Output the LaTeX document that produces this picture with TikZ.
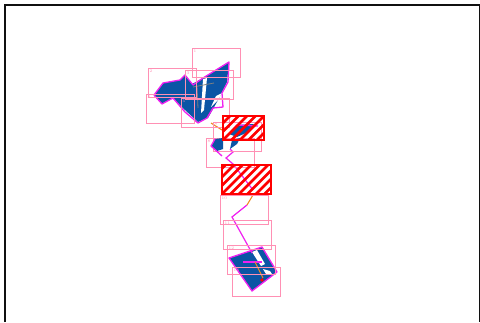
\documentclass[tikz,border=0pt]{standalone}
\usepackage{xcolor}
\definecolor{framec}{HTML}{101010}
\definecolor{boxc}{HTML}{FF90B4}
\definecolor{blobc}{HTML}{0B55A5}
\definecolor{pathc}{HTML}{F020F0}
\definecolor{legc}{HTML}{F08A20}
\definecolor{hatchc}{HTML}{FF0000}
\tikzset{
  pinkbox/.style={draw=boxc,line width=1pt},
  boxlabel/.style={text=boxc,font=\fontsize{4}{4}\selectfont,inner sep=0pt,anchor=north west},
  outline/.style={draw=pathc,line width=1.3pt,line join=round},
  route/.style={draw=pathc,line width=1.2pt},
  leg/.style={draw=legc,line width=1.1pt},
  gap/.style={fill=white}
}
\newcommand{\hatchbox}[4]{%
  \begin{scope}
    \clip (#1,#2) rectangle (#3,#4);
    \foreach \i in {-6,...,8} {
      \draw[hatchc,line width=2.8pt] ({#1+\i*8.5},#4) -- ++(35,-35);
    }
  \end{scope}
  \draw[hatchc,line width=2.2pt] (#1,#2) rectangle (#3,#4);
}

\begin{document}
\begin{tikzpicture}[x=1pt,y=-1pt]
  \useasboundingbox (0,0) rectangle (480,322);
  \fill[white] (0,0) rectangle (480,322);

  % ============================================================
  %                       FRAME
  % ============================================================
  \draw[framec,line width=2.2pt] (5,322) -- (5,5) -- (480,5) -- (480,322);

  % ============================================================
  %                       TOP BLOB
  % ============================================================
  \fill[blobc] (229,62) -- (227,82) -- (218,100) -- (208,118) -- (198,122)
    -- (185,110) -- (173,98) -- (162,104) -- (154,95) -- (163,83) -- (180,80)
    -- (185,75) -- (192,84) -- (203,78) -- cycle;
  \fill[gap] (203,79) -- (207,78) -- (204,110) -- (201,113) -- cycle;
  \fill[gap] (222,93) -- (218,100) -- (211,107) -- (216,96) -- cycle;
  \draw[outline] (229,62) -- (228,82) -- (222,93) -- (223,107) -- (213,108)
    -- (207,118) -- (198,123) -- (185,112) -- (173,98) -- (162,104) -- (154,95)
    -- (163,83) -- (180,80) -- (185,75) -- (193,85) -- (203,78) -- cycle;
  \draw[gray,line width=0.8pt] (193,87) -- (214,83);
  \draw[gray,line width=0.8pt] (197,86) -- (198,108);

  % ============================================================
  %                       BOTTOM BLOB
  % ============================================================
  \fill[blobc] (229,258) -- (262,247) -- (277,272) -- (252,291) -- cycle;
  \fill[gap] (252,252) -- (257,250) -- (265,264) -- (261,266) -- cycle;
  \fill[gap] (263,269) -- (270,271) -- (272,274) -- (266,274) -- cycle;
  \draw[outline] (229,258) -- (262,247) -- (277,272) -- (252,291) -- cycle;
  \draw[route] (243,262) -- (262,262);

  % ============================================================
  %                       ROUTE
  % ============================================================
  \draw[route] (230,149) -- (233,152) -- (226,158) -- (233,164) -- (253,190);
  \draw[route] (247,205) -- (232,217) -- (252,253);
  \draw[leg] (211,123) -- (222,130);
  \draw[leg] (253,195) -- (247,205);
  \draw[leg] (255,262) -- (263,278);
  \fill[hatchc] (262,280) circle (1.8);

  % ============================================================
  %                       BOXES
  % ============================================================
  \foreach \xa/\ya/\num in {192/48/1,148/68/2,185/70/3,146/94/4,181/98/5,213/122/7,206/138/8,220/195/10,223/220/11,227/245/12,232/267/13} {
    \draw[pinkbox] (\xa,\ya) rectangle ++(48,29);
    \node[boxlabel] (lbl\num) at (\xa+1.5,\ya+1.5) {\num};
  }

  % ============================================================
  %                       MIDDLE BLOBS
  % ============================================================
  \fill[blobc] (211,146) -- (215,139) -- (223,138) -- (223,149) -- (217,151) -- cycle;
  \fill[blobc] (230,149) -- (232,140) -- (240,138) -- (237,144) -- cycle;
  \draw[outline] (222,156) -- (211,146) -- (215,139);
  \fill[blobc] (229,134) -- (237,125) -- (254,124) -- (246,133) -- (237,137) -- cycle;
  \draw[outline] (229,134) -- (237,125) -- (258,126);

  \hatchbox{223}{116}{264}{140}
  \hatchbox{222}{165}{271}{194}

\end{tikzpicture}
\end{document}
